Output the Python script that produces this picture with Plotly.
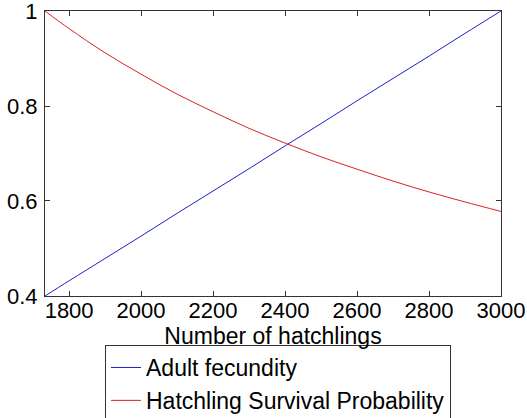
import plotly.graph_objects as go

hatchlings = [1733, 1800, 1900, 2000, 2100, 2200, 2300, 2400, 2500, 2600, 2700, 2800, 2900, 3000]
adult_fecundity = [0.400, 0.432, 0.479, 0.526, 0.574, 0.621, 0.668, 0.716, 0.763, 0.811, 0.858, 0.905, 0.953, 1.000]
hatchling_survival = [1.000, 0.963, 0.912, 0.867, 0.825, 0.788, 0.753, 0.722, 0.693, 0.667, 0.642, 0.619, 0.598, 0.578]

x_ticks = [1800, 2000, 2200, 2400, 2600, 2800, 3000]
y_ticks = [0.4, 0.6, 0.8, 1.0]
y_ticktext = ["0.4", "0.6", "0.8", "1"]

FONT = "Liberation Sans, Arial, sans-serif"

fig = go.Figure()
fig.add_trace(go.Scatter(x=hatchlings, y=adult_fecundity, mode="lines",
                         line=dict(color="#2020d0", width=1, shape="spline"),
                         name="Adult fecundity"))
fig.add_trace(go.Scatter(x=hatchlings, y=hatchling_survival, mode="lines",
                         line=dict(color="#e02020", width=1, shape="spline"),
                         name="Hatchling Survival Probability"))

axis_common = dict(showline=True, linecolor="#333333", linewidth=1, mirror="allticks",
                   ticks="inside", ticklen=5, tickcolor="#333333", showgrid=False,
                   zeroline=False, automargin=False, ticklabeloverflow="allow",
                   tickfont=dict(size=22, color="black", family=FONT))

fig.update_xaxes(range=[1733, 3000.05], tickvals=x_ticks, ticklabelstandoff=-5,
                 title=dict(text="Number of hatchlings", font=dict(size=23, color="black", family=FONT), standoff=0),
                 **axis_common)
fig.update_yaxes(range=[0.3999, 1.0001], tickvals=y_ticks, ticktext=y_ticktext, ticklabelstandoff=2,
                 **axis_common)

fig.update_layout(
    width=527, height=418,
    margin=dict(l=45, r=26, t=11, b=122, autoexpand=False),
    paper_bgcolor="white", plot_bgcolor="white",
    font=dict(family=FONT, size=22, color="black"),
    legend=dict(x=0.1316, y=-0.172, xanchor="left", yanchor="top",
                bordercolor="#333333", borderwidth=1, bgcolor="white",
                font=dict(size=23, family=FONT), tracegroupgap=0),
    showlegend=True,
)

fig.write_html("out.html", config={"displayModeBar": False},
               post_script="document.body.style.margin='0px';document.body.style.padding='0px';")
